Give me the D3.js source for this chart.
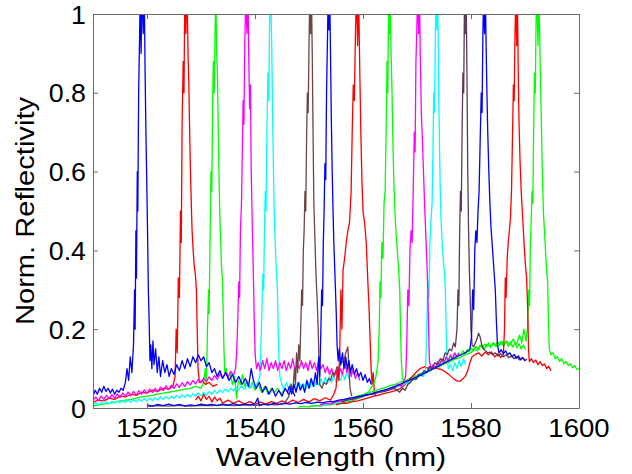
<!DOCTYPE html>
<html>
<head>
<meta charset="utf-8">
<script src="https://cdn.jsdelivr.net/npm/d3@7"></script>
<style>
  body { margin: 0; background: #fff; }
  text { font-family: "Liberation Sans", Arial, sans-serif; fill: #000; }
</style>
</head>
<body>
<script>
"use strict";

// axis ticks
var xTicks = [1520, 1540, 1560, 1580, 1600];
var yTicks = [0, 0.2, 0.4, 0.6, 0.8, 1];
var yTickLabels = ["0", "0.2", "0.4", "0.6", "0.8", "1"];

// spectra [wavelength nm, normalized reflectivity]
var blueA = [[1510,0.03],[1510.4,0.045],[1510.8,0.035],[1511.2,0.05],[1511.6,0.04],[1512,0.055],[1512.4,0.042],[1512.8,0.05],[1513.2,0.038],[1513.6,0.048],[1514,0.035],[1514.4,0.045],[1514.8,0.04],[1515.2,0.05],[1515.6,0.045],[1516,0.065],[1516.3,0.1],[1516.6,0.07],[1516.9,0.13],[1517.2,0.09],[1517.5,0.16],[1517.7,0.3],[1517.8,0.2],[1517.95,0.45],[1518.05,0.33],[1518.2,0.6],[1518.3,0.5],[1518.45,0.8],[1518.6,0.92],[1518.75,1.05],[1518.9,0.9],[1519.1,1.08],[1519.3,0.95],[1519.5,1.05],[1519.65,0.85],[1519.8,0.7],[1519.95,0.58],[1520.1,0.45],[1520.25,0.3],[1520.4,0.22],[1520.55,0.12],[1520.7,0.16],[1520.9,0.1],[1521.1,0.17],[1521.3,0.11],[1521.6,0.15],[1521.9,0.09],[1522.2,0.13],[1522.5,0.08],[1522.9,0.12],[1523.3,0.09],[1523.7,0.11],[1524.1,0.08],[1524.5,0.1],[1525,0.085],[1525.5,0.11],[1526,0.095],[1526.5,0.12],[1527,0.1],[1527.5,0.125],[1528,0.105],[1528.5,0.13],[1529,0.115],[1529.5,0.135],[1530,0.12],[1530.5,0.13],[1531,0.105],[1531.5,0.115],[1532,0.09],[1532.5,0.1],[1533,0.08],[1533.5,0.095],[1534,0.075],[1534.6,0.09],[1535.2,0.07],[1535.8,0.085],[1536.4,0.065],[1537,0.08],[1537.6,0.06],[1538.2,0.075],[1538.8,0.055],[1539.3,0.1],[1539.7,0.07],[1540.2,0.05],[1540.8,0.065],[1541.4,0.04],[1542,0.055],[1542.6,0.035],[1543.2,0.05],[1543.8,0.03],[1544.4,0.045],[1545,0.03],[1545.6,0.05],[1546.2,0.035],[1546.8,0.05],[1547.4,0.03]];

var redB = [[1510,0.015],[1511,0.02],[1512,0.018],[1513,0.025],[1514,0.022],[1515,0.03],[1516,0.028],[1517,0.035],[1518,0.032],[1519,0.04],[1520,0.038],[1521,0.045],[1522,0.042],[1523,0.05],[1524,0.048],[1524.8,0.055],[1525.2,0.08],[1525.4,0.2],[1525.6,0.14],[1525.8,0.33],[1526,0.28],[1526.2,0.5],[1526.35,0.42],[1526.5,0.72],[1526.7,0.88],[1526.85,0.8],[1527,1.05],[1527.2,0.95],[1527.4,1.08],[1527.6,0.9],[1527.75,0.82],[1527.9,0.7],[1528.05,0.6],[1528.2,0.52],[1528.35,0.45],[1528.55,0.4],[1528.75,0.36],[1528.95,0.34],[1529.15,0.3],[1529.3,0.2],[1529.45,0.1],[1529.7,0.065],[1530.2,0.07],[1530.8,0.06],[1531.5,0.065],[1532.2,0.055],[1533,0.06]];

var greenC = [[1510,0.005],[1511,0.008],[1512,0.01],[1513,0.012],[1514,0.015],[1515,0.018],[1516,0.02],[1517,0.022],[1518,0.025],[1519,0.028],[1520,0.03],[1521,0.032],[1522,0.035],[1523,0.038],[1524,0.04],[1525,0.042],[1526,0.045],[1527,0.048],[1528,0.05],[1529,0.055],[1530,0.05],[1530.5,0.065],[1530.8,0.1],[1531,0.06],[1531.2,0.2],[1531.4,0.3],[1531.5,0.24],[1531.7,0.45],[1531.85,0.6],[1532,0.55],[1532.15,0.78],[1532.3,0.88],[1532.45,0.8],[1532.6,0.95],[1532.75,1.05],[1532.9,0.9],[1533.05,0.85],[1533.2,0.7],[1533.35,0.58],[1533.5,0.48],[1533.65,0.42],[1533.8,0.36],[1533.95,0.33],[1534.1,0.25],[1534.25,0.15],[1534.4,0.09],[1534.7,0.1],[1535,0.075],[1535.4,0.09],[1535.8,0.06],[1536.2,0.08],[1536.6,0.025],[1536.9,0.07],[1537.3,0.06],[1537.7,0.085],[1538.1,0.055],[1538.5,0.07],[1539,0.05],[1539.5,0.065],[1540,0.045],[1540.6,0.06],[1541.2,0.04],[1541.8,0.055],[1542.4,0.035],[1543,0.05],[1543.6,0.04],[1544.2,0.05],[1544.8,0.035],[1545.4,0.045]];

var magentaD = [[1510,0.02],[1510.5,0.028],[1511,0.018],[1511.5,0.03],[1512,0.022],[1512.5,0.032],[1513,0.024],[1513.5,0.034],[1514,0.025],[1514.5,0.036],[1515,0.027],[1515.5,0.038],[1516,0.03],[1516.5,0.04],[1517,0.031],[1517.5,0.042],[1518,0.033],[1518.5,0.044],[1519,0.035],[1519.5,0.046],[1520,0.037],[1520.5,0.048],[1521,0.039],[1521.5,0.05],[1522,0.041],[1522.5,0.053],[1523,0.044],[1523.5,0.056],[1524,0.047],[1524.5,0.058],[1525,0.05],[1525.5,0.061],[1526,0.052],[1526.5,0.064],[1527,0.055],[1527.5,0.067],[1528,0.058],[1528.5,0.07],[1529,0.061],[1529.5,0.073],[1530,0.064],[1530.5,0.076],[1531,0.067],[1531.5,0.079],[1532,0.07],[1532.5,0.082],[1533,0.073],[1533.5,0.086],[1534,0.076],[1534.5,0.09],[1535,0.078],[1535.5,0.093],[1536,0.082],[1536.4,0.1],[1536.6,0.14],[1536.8,0.22],[1537,0.32],[1537.15,0.28],[1537.3,0.45],[1537.5,0.52],[1537.65,0.65],[1537.8,0.78],[1537.95,0.72],[1538.1,0.92],[1538.3,1.05],[1538.5,0.95],[1538.7,1.06],[1538.85,0.88],[1539,0.76],[1539.15,0.82],[1539.3,0.6],[1539.45,0.5],[1539.6,0.4],[1539.75,0.3],[1539.9,0.2],[1540.05,0.13],[1540.3,0.1],[1540.6,0.115],[1541,0.095],[1541.4,0.12],[1541.8,0.1],[1542.2,0.125],[1542.6,0.095],[1543,0.115],[1543.4,0.1],[1543.8,0.12],[1544.2,0.095],[1544.6,0.115],[1545,0.1],[1545.4,0.12],[1545.8,0.095],[1546.2,0.115],[1546.6,0.1],[1547,0.125],[1547.4,0.095],[1547.8,0.115],[1548.2,0.1],[1548.6,0.12],[1549,0.1],[1549.4,0.115],[1549.8,0.095],[1550.2,0.12],[1550.6,0.1],[1551,0.115],[1551.4,0.095],[1551.8,0.12],[1552.2,0.1],[1552.6,0.11],[1553,0.09],[1553.4,0.105],[1553.8,0.085],[1554.2,0.1],[1554.6,0.08],[1555,0.095],[1555.4,0.075],[1555.8,0.1],[1556.2,0.085],[1556.6,0.12],[1557,0.09],[1557.4,0.11],[1557.8,0.08],[1558.2,0.1],[1558.6,0.075],[1559,0.09],[1559.4,0.07]];

var cyanE = [[1510,0.008],[1510.5,0.014],[1511,0.008],[1511.5,0.015],[1512,0.01],[1512.5,0.016],[1513,0.011],[1513.5,0.017],[1514,0.012],[1514.5,0.018],[1515,0.013],[1515.5,0.019],[1516,0.014],[1516.5,0.02],[1517,0.015],[1517.5,0.021],[1518,0.016],[1518.5,0.022],[1519,0.017],[1519.5,0.024],[1520,0.018],[1520.5,0.025],[1521,0.019],[1521.5,0.026],[1522,0.02],[1522.5,0.028],[1523,0.022],[1523.5,0.029],[1524,0.023],[1524.5,0.03],[1525,0.024],[1525.5,0.032],[1526,0.025],[1526.5,0.033],[1527,0.027],[1527.5,0.035],[1528,0.028],[1528.5,0.036],[1529,0.03],[1529.5,0.038],[1530,0.031],[1530.5,0.04],[1531,0.033],[1531.5,0.042],[1532,0.035],[1532.5,0.044],[1533,0.037],[1533.5,0.046],[1534,0.039],[1534.5,0.048],[1535,0.041],[1535.5,0.05],[1536,0.043],[1536.5,0.053],[1537,0.046],[1537.5,0.056],[1538,0.048],[1538.5,0.058],[1539,0.05],[1539.5,0.061],[1540,0.053],[1540.5,0.065],[1540.9,0.08],[1541.1,0.16],[1541.3,0.26],[1541.45,0.34],[1541.6,0.3],[1541.75,0.45],[1541.9,0.55],[1542.05,0.5],[1542.2,0.7],[1542.4,0.85],[1542.55,0.78],[1542.7,0.98],[1542.9,1.06],[1543.1,0.92],[1543.25,0.75],[1543.4,0.62],[1543.55,0.5],[1543.7,0.44],[1543.85,0.38],[1544,0.34],[1544.15,0.3],[1544.3,0.2],[1544.45,0.12],[1544.6,0.08],[1545,0.06],[1545.4,0.045],[1545.8,0.065],[1546.2,0.05],[1546.6,0.062],[1547,0.045],[1547.4,0.06],[1547.8,0.048],[1548.2,0.065],[1548.6,0.05],[1549,0.062],[1549.4,0.048],[1549.8,0.066],[1550.2,0.052],[1550.6,0.07],[1551,0.055],[1551.4,0.072],[1551.8,0.058],[1552.2,0.075],[1552.6,0.06],[1553,0.078],[1553.4,0.062],[1553.8,0.08],[1554.2,0.065],[1554.6,0.082],[1555,0.068],[1555.4,0.085],[1555.8,0.07],[1556.2,0.088],[1556.6,0.072],[1557,0.09],[1557.4,0.075]];

var brownF = [[1520,0.004],[1522,0.006],[1524,0.005],[1526,0.007],[1528,0.005],[1530,0.007],[1532,0.006],[1534,0.008],[1536,0.006],[1538,0.008],[1540,0.007],[1542,0.009],[1544,0.008],[1545.5,0.012],[1546.3,0.03],[1546.7,0.06],[1547,0.04],[1547.3,0.1],[1547.5,0.06],[1547.7,0.14],[1547.9,0.09],[1548.1,0.16],[1548.3,0.12],[1548.5,0.22],[1548.65,0.3],[1548.8,0.26],[1548.95,0.4],[1549.1,0.45],[1549.25,0.55],[1549.4,0.5],[1549.55,0.68],[1549.7,0.8],[1549.85,0.75],[1550,0.92],[1550.15,1.05],[1550.3,0.95],[1550.45,1.06],[1550.6,0.9],[1550.75,0.7],[1550.9,0.52],[1551.05,0.45],[1551.2,0.38],[1551.35,0.32],[1551.5,0.28],[1551.7,0.2],[1551.85,0.12],[1552,0.06],[1552.4,0.05],[1552.8,0.065],[1553.2,0.06],[1553.6,0.075],[1554,0.07],[1554.4,0.09],[1554.8,0.085],[1555.2,0.105],[1555.6,0.1],[1556,0.12],[1556.4,0.115],[1556.8,0.14],[1557.2,0.155],[1557.4,0.1],[1557.6,0.05],[1557.9,0.03]];

var blueG = [[1546,0.04],[1546.4,0.055],[1546.8,0.035],[1547.2,0.06],[1547.6,0.04],[1548,0.065],[1548.4,0.045],[1548.8,0.06],[1549.2,0.04],[1549.6,0.07],[1550,0.05],[1550.4,0.075],[1550.8,0.055],[1551.2,0.09],[1551.5,0.06],[1551.8,0.13],[1552,0.08],[1552.2,0.2],[1552.35,0.3],[1552.5,0.26],[1552.65,0.42],[1552.8,0.5],[1552.95,0.62],[1553.1,0.58],[1553.25,0.8],[1553.4,0.92],[1553.55,1.05],[1553.7,0.96],[1553.85,1.04],[1554,0.88],[1554.15,0.72],[1554.3,0.6],[1554.45,0.5],[1554.6,0.42],[1554.75,0.36],[1554.9,0.3],[1555.05,0.24],[1555.2,0.16],[1555.4,0.12],[1555.6,0.15],[1555.9,0.11],[1556.2,0.14],[1556.5,0.1],[1556.8,0.13],[1557.1,0.1],[1557.4,0.12],[1557.7,0.09],[1558,0.11],[1558.4,0.085],[1558.8,0.1],[1559.2,0.08],[1559.6,0.09],[1560,0.07],[1560.4,0.085],[1560.8,0.065],[1561.2,0.075],[1561.5,0.06]];

var redH = [[1529,0.02],[1529.5,0.03],[1530,0.018],[1530.5,0.035],[1531,0.022],[1531.5,0.03],[1532,0.015],[1532.5,0.028],[1533,0.018],[1533.5,0.025],[1534,0.012],[1535,0.02],[1536,0.012],[1537,0.018],[1538,0.01],[1539,0.016],[1540,0.01],[1541,0.015],[1542,0.01],[1543,0.016],[1544,0.012],[1545,0.018],[1546,0.012],[1547,0.02],[1548,0.014],[1549,0.022],[1550,0.015],[1551,0.024],[1552,0.018],[1553,0.026],[1554,0.02],[1554.6,0.035],[1555,0.05],[1555.3,0.1],[1555.5,0.07],[1555.7,0.15],[1555.9,0.3],[1556.1,0.2],[1556.3,0.35],[1556.6,0.38],[1556.9,0.42],[1557.2,0.45],[1557.5,0.47],[1557.8,0.55],[1558,0.7],[1558.2,0.82],[1558.4,0.78],[1558.6,0.95],[1558.8,1.06],[1559,0.92],[1559.2,1.04],[1559.4,0.86],[1559.6,0.7],[1559.8,0.58],[1560,0.5],[1560.3,0.47],[1560.6,0.42],[1560.9,0.32],[1561.1,0.26],[1561.3,0.18],[1561.5,0.1],[1561.7,0.06],[1561.9,0.09],[1562.1,0.04],[1562.4,0.03]];

var greenO = [[1548,0.002],[1549,0.004],[1550,0.003],[1551,0.006],[1552,0.006],[1553,0.01],[1554,0.012],[1555,0.016],[1556,0.018],[1557,0.023],[1558,0.026],[1559,0.031],[1560,0.034],[1561,0.039],[1562,0.042],[1563,0.048],[1564,0.051],[1565,0.057],[1566,0.06],[1567,0.066],[1568,0.07],[1569,0.078],[1570,0.082],[1571,0.089],[1572,0.093],[1573,0.1],[1574,0.104],[1575,0.112],[1576,0.116],[1577,0.124],[1578,0.128],[1579,0.136],[1580,0.14],[1580.6,0.15],[1581.2,0.145],[1581.8,0.158],[1582.4,0.15],[1583,0.162],[1583.6,0.154],[1584.2,0.165],[1584.8,0.156],[1585.4,0.168],[1586,0.158],[1586.6,0.17],[1587.2,0.16],[1587.8,0.175],[1588.4,0.162],[1589,0.185],[1589.4,0.165],[1589.8,0.2],[1590.2,0.17],[1590.5,0.21],[1590.7,0.3],[1590.85,0.26],[1591,0.42],[1591.15,0.48],[1591.3,0.55],[1591.45,0.52],[1591.6,0.7],[1591.75,0.85],[1591.9,0.8],[1592.05,0.98],[1592.2,1.05],[1592.4,0.92],[1592.6,1.04],[1592.8,0.88],[1593,0.75],[1593.2,0.6],[1593.4,0.5],[1593.6,0.45],[1593.8,0.4],[1594,0.35],[1594.2,0.32],[1594.35,0.22],[1594.5,0.15],[1594.8,0.135],[1595.2,0.14],[1595.6,0.125],[1596,0.13],[1596.4,0.118],[1596.8,0.125],[1597.2,0.112],[1597.6,0.118],[1598,0.108],[1598.4,0.112],[1598.8,0.102],[1599.2,0.108],[1599.6,0.098],[1600,0.1]];

var greenI = [[1550,0.004],[1551,0.006],[1552,0.005],[1553,0.008],[1554,0.008],[1555,0.011],[1556,0.012],[1557,0.016],[1558,0.018],[1559,0.024],[1560,0.028],[1560.5,0.036],[1561,0.04],[1561.5,0.052],[1562,0.06],[1562.4,0.08],[1562.8,0.12],[1563,0.2],[1563.15,0.32],[1563.3,0.28],[1563.5,0.42],[1563.7,0.38],[1563.9,0.52],[1564.1,0.55],[1564.3,0.72],[1564.45,0.88],[1564.6,0.8],[1564.75,1.05],[1564.9,0.95],[1565.05,1.04],[1565.2,0.9],[1565.35,0.82],[1565.5,0.7],[1565.7,0.58],[1565.9,0.5],[1566.1,0.45],[1566.35,0.4],[1566.6,0.35],[1566.8,0.3],[1566.95,0.2],[1567.1,0.12],[1567.3,0.075],[1567.7,0.065],[1568.1,0.07],[1568.5,0.062],[1568.9,0.075],[1569.3,0.07],[1569.7,0.082],[1570.1,0.076],[1570.5,0.088],[1570.9,0.082],[1571.3,0.094],[1571.7,0.088],[1572.1,0.1],[1572.5,0.094],[1572.9,0.106],[1573.3,0.1],[1573.7,0.112],[1574.1,0.106],[1574.5,0.118],[1574.9,0.112],[1575.3,0.124],[1575.7,0.118],[1576.1,0.13],[1576.5,0.124],[1576.9,0.135],[1577.3,0.13],[1577.7,0.14],[1578.1,0.134],[1578.5,0.145],[1578.9,0.138],[1579.3,0.148],[1579.7,0.142],[1580.1,0.152],[1580.5,0.146],[1580.9,0.156],[1581.3,0.15],[1581.7,0.16],[1582.1,0.152],[1582.5,0.162],[1582.9,0.155],[1583.3,0.165],[1583.7,0.156],[1584.1,0.166],[1584.5,0.157],[1584.9,0.168],[1585.3,0.158],[1585.7,0.17],[1586.1,0.158],[1586.5,0.17],[1586.9,0.156],[1587.3,0.168],[1587.7,0.155],[1588.1,0.165],[1588.5,0.153],[1588.9,0.163],[1589.3,0.15],[1589.7,0.16],[1590.1,0.148]];

var redN = [[1555,0.008],[1556,0.012],[1557,0.012],[1558,0.016],[1559,0.018],[1560,0.022],[1561,0.026],[1562,0.03],[1563,0.033],[1564,0.037],[1565,0.04],[1566,0.044],[1567,0.05],[1568,0.062],[1569,0.078],[1569.8,0.09],[1570.6,0.1],[1571.4,0.105],[1572.2,0.1],[1573,0.106],[1573.8,0.1],[1574.5,0.098],[1575.2,0.092],[1575.8,0.086],[1576.4,0.079],[1577,0.072],[1577.5,0.068],[1578,0.068],[1578.5,0.074],[1579,0.082],[1579.4,0.095],[1579.8,0.115],[1580.2,0.13],[1580.8,0.136],[1581.4,0.14],[1582,0.132],[1582.6,0.142],[1583.2,0.135],[1583.8,0.142],[1584.4,0.13],[1585,0.138],[1585.5,0.128],[1586,0.135],[1586.2,0.2],[1586.35,0.33],[1586.5,0.28],[1586.7,0.38],[1586.9,0.42],[1587.1,0.45],[1587.3,0.48],[1587.5,0.55],[1587.7,0.7],[1587.85,0.82],[1588,0.78],[1588.15,0.95],[1588.3,1.05],[1588.45,0.92],[1588.6,1.04],[1588.75,0.85],[1588.9,0.72],[1589.1,0.62],[1589.3,0.55],[1589.5,0.5],[1589.7,0.45],[1589.9,0.4],[1590.1,0.36],[1590.3,0.33],[1590.5,0.25],[1590.65,0.15],[1590.8,0.118],[1591.2,0.125],[1591.6,0.115],[1592,0.122],[1592.4,0.11],[1592.8,0.118],[1593.2,0.108],[1593.6,0.112],[1594,0.1],[1594.4,0.106],[1594.8,0.094]];

var cyanK = [[1552,0.006],[1553,0.01],[1554,0.009],[1555,0.014],[1556,0.015],[1557,0.02],[1558,0.021],[1559,0.026],[1560,0.028],[1561,0.033],[1562,0.035],[1563,0.04],[1564,0.042],[1565,0.048],[1566,0.05],[1567,0.058],[1568,0.062],[1569,0.07],[1570,0.075],[1570.6,0.085],[1571.2,0.08],[1571.6,0.1],[1571.8,0.2],[1572,0.32],[1572.2,0.28],[1572.4,0.42],[1572.6,0.48],[1572.8,0.52],[1572.95,0.65],[1573.1,0.8],[1573.25,0.75],[1573.4,0.95],[1573.55,1.05],[1573.7,0.96],[1573.85,1.04],[1574,0.82],[1574.15,0.68],[1574.3,0.56],[1574.45,0.48],[1574.65,0.42],[1574.85,0.38],[1575.05,0.35],[1575.25,0.3],[1575.4,0.2],[1575.55,0.13],[1575.8,0.1],[1576.2,0.11],[1576.6,0.095],[1577,0.115],[1577.4,0.1],[1577.8,0.12],[1578.2,0.105],[1578.6,0.125],[1579,0.11]];

var magentaJ = [[1552,0.008],[1553,0.012],[1554,0.01],[1555,0.016],[1556,0.018],[1557,0.022],[1558,0.024],[1559,0.028],[1560,0.03],[1561,0.034],[1562,0.036],[1563,0.042],[1564,0.044],[1565,0.05],[1566,0.052],[1566.5,0.06],[1567,0.055],[1567.5,0.065],[1567.9,0.08],[1568.1,0.16],[1568.3,0.3],[1568.5,0.26],[1568.7,0.4],[1568.9,0.45],[1569.1,0.42],[1569.3,0.55],[1569.5,0.7],[1569.65,0.65],[1569.8,0.88],[1569.95,0.95],[1570.1,1.05],[1570.3,0.95],[1570.45,1.05],[1570.6,0.9],[1570.8,0.75],[1571,0.68],[1571.2,0.6],[1571.4,0.52],[1571.6,0.45],[1571.8,0.38],[1572,0.3],[1572.15,0.2],[1572.3,0.12],[1572.6,0.1],[1573,0.11],[1573.4,0.1],[1573.8,0.118],[1574.2,0.11],[1574.6,0.125],[1575,0.115],[1575.4,0.13],[1575.8,0.12],[1576.2,0.135],[1576.6,0.125],[1577,0.14],[1577.4,0.13],[1577.8,0.138]];

var brownL = [[1556,0.015],[1557,0.02],[1558,0.022],[1559,0.026],[1560,0.03],[1561,0.034],[1562,0.036],[1563,0.04],[1564,0.042],[1565,0.046],[1565.7,0.05],[1566.3,0.045],[1566.8,0.04],[1567.3,0.05],[1567.8,0.045],[1568.3,0.06],[1568.8,0.065],[1569.3,0.075],[1569.8,0.072],[1570.3,0.085],[1570.8,0.082],[1571.3,0.095],[1571.8,0.09],[1572.3,0.105],[1572.8,0.1],[1573.3,0.115],[1573.8,0.11],[1574.3,0.125],[1574.8,0.12],[1575.2,0.14],[1575.6,0.135],[1576,0.15],[1576.4,0.145],[1576.8,0.165],[1577.1,0.155],[1577.4,0.2],[1577.6,0.3],[1577.75,0.26],[1577.9,0.45],[1578.05,0.55],[1578.2,0.5],[1578.35,0.7],[1578.5,0.85],[1578.65,0.8],[1578.8,1.05],[1578.95,0.95],[1579.1,1.05],[1579.25,0.85],[1579.4,0.6],[1579.55,0.45],[1579.7,0.35],[1579.85,0.28],[1580,0.2],[1580.2,0.16],[1580.5,0.155],[1580.8,0.165],[1581.1,0.175],[1581.4,0.19],[1581.7,0.18],[1582,0.16],[1582.3,0.15],[1582.7,0.145],[1583.1,0.14],[1583.5,0.142],[1584,0.135],[1584.5,0.14],[1585,0.132],[1585.5,0.138],[1586,0.13],[1586.5,0.135],[1587,0.128],[1587.5,0.132],[1588,0.125],[1588.5,0.13],[1589,0.122],[1589.5,0.128],[1590,0.12],[1590.4,0.125]];

var blueM = [[1520,0.008],[1521,0.005],[1522,0.009],[1523,0.006],[1524,0.01],[1525,0.006],[1526,0.009],[1527,0.005],[1528,0.008],[1529,0.006],[1530,0.01],[1531,0.007],[1532,0.009],[1533,0.006],[1534,0.01],[1535,0.007],[1536,0.011],[1537,0.007],[1538,0.01],[1539,0.008],[1540,0.011],[1540.5,0.025],[1540.8,0.006],[1541.5,0.01],[1542.5,0.008],[1543.5,0.012],[1544.5,0.009],[1545.5,0.012],[1546.5,0.01],[1547.5,0.013],[1548.5,0.011],[1549.5,0.014],[1550.5,0.012],[1551.5,0.015],[1552.5,0.013],[1553.5,0.016],[1554.5,0.016],[1555.5,0.02],[1556.5,0.022],[1557.5,0.025],[1558.5,0.027],[1559.5,0.03],[1560.5,0.033],[1561.5,0.036],[1562.5,0.04],[1563.5,0.044],[1564.5,0.048],[1565.5,0.053],[1566.5,0.058],[1567.5,0.064],[1568.5,0.07],[1569.5,0.076],[1570.5,0.082],[1571.5,0.089],[1572.5,0.096],[1573.5,0.103],[1574.5,0.11],[1575.5,0.117],[1576.5,0.124],[1577.5,0.131],[1578.5,0.137],[1579.3,0.143],[1579.8,0.15],[1580.1,0.18],[1580.3,0.3],[1580.5,0.25],[1580.7,0.4],[1580.9,0.45],[1581.1,0.42],[1581.3,0.5],[1581.5,0.55],[1581.7,0.68],[1581.9,0.8],[1582.05,0.75],[1582.2,0.95],[1582.35,1.05],[1582.5,0.95],[1582.65,1.06],[1582.8,0.92],[1582.95,0.8],[1583.1,0.7],[1583.3,0.6],[1583.5,0.52],[1583.7,0.46],[1583.9,0.42],[1584.1,0.38],[1584.3,0.34],[1584.5,0.3],[1584.7,0.22],[1584.9,0.16],[1585.2,0.14],[1585.6,0.148],[1586,0.138],[1586.4,0.145],[1586.8,0.135],[1587.2,0.14],[1587.6,0.13],[1588,0.136],[1588.4,0.126],[1588.8,0.132],[1589.2,0.122],[1589.6,0.128],[1590,0.12]];

// drawing order (later on top) and colours
var series = [
    { "data": greenC,   "color": "#00ff00" },
    { "data": redB,     "color": "#ff0000" },
    { "data": cyanE,    "color": "#00ffff" },
    { "data": magentaD, "color": "#ff00ff" },
    { "data": blueA,    "color": "#0000ff" },
    { "data": brownF,   "color": "#6e4545" },
    { "data": redH,     "color": "#ff0000" },
    { "data": blueG,    "color": "#0000ff" },
    { "data": greenO,   "color": "#00ff00" },
    { "data": greenI,   "color": "#00ff00" },
    { "data": redN,     "color": "#ff0000" },
    { "data": cyanK,    "color": "#00ffff" },
    { "data": magentaJ, "color": "#ff00ff" },
    { "data": brownL,   "color": "#5b3b55" },
    { "data": blueM,    "color": "#0000ff" }
];

function draw_chart() {
    var width = 632;
    var height = 474;
    var left = 93, right = 579, top = 14, bottom = 408;

    var svg = d3.select("body")
        .append("svg")
        .attr("width", width)
        .attr("height", height);

    var x = d3.scaleLinear().domain([1510, 1600]).range([left, right]);
    var y = d3.scaleLinear().domain([0, 1]).range([bottom, top]);

    svg.append("defs").append("clipPath")
        .attr("id", "plotclip")
        .append("rect")
        .attr("x", left).attr("y", top)
        .attr("width", right - left).attr("height", bottom - top);

    var line = d3.line()
        .x(function(d) { return x(d[0]); })
        .y(function(d) { return y(d[1]); });

    svg.append("g")
        .attr("clip-path", "url(#plotclip)")
        .selectAll("path")
        .data(series)
        .enter()
        .append("path")
        .attr("d", function(d) { return line(d.data); })
        .attr("fill", "none")
        .attr("stroke", function(d) { return d.color; })
        .attr("stroke-width", 1.3)
        .attr("stroke-linejoin", "round");

    // axes box, inward ticks on all four sides (matlab style)
    var axisColor = "#6a6a6a";
    var tickLen = 5;
    var axes = svg.append("g");

    axes.append("g")
        .attr("transform", "translate(0," + bottom + ")")
        .call(d3.axisBottom(x).tickValues(xTicks).tickSizeInner(-tickLen).tickSizeOuter(0).tickFormat(""));
    axes.append("g")
        .attr("transform", "translate(0," + top + ")")
        .call(d3.axisTop(x).tickValues(xTicks).tickSizeInner(-tickLen).tickSizeOuter(0).tickFormat(""));
    axes.append("g")
        .attr("transform", "translate(" + left + ",0)")
        .call(d3.axisLeft(y).tickValues(yTicks).tickSizeInner(-tickLen).tickSizeOuter(0).tickFormat(""));
    axes.append("g")
        .attr("transform", "translate(" + right + ",0)")
        .call(d3.axisRight(y).tickValues(yTicks).tickSizeInner(-tickLen).tickSizeOuter(0).tickFormat(""));
    axes.selectAll("path.domain").attr("stroke", axisColor);
    axes.selectAll(".tick line").attr("stroke", axisColor);

    // tick labels
    svg.selectAll("text.xlab")
        .data(xTicks)
        .enter()
        .append("text")
        .attr("class", "xlab")
        .attr("text-anchor", "middle")
        .attr("font-size", 26)
        .attr("transform", function(d) { return "translate(" + x(d) + "," + (bottom + 29) + ")scale(1.06,1)"; })
        .text(function(d) { return d; });

    svg.selectAll("text.ylab")
        .data(yTicks)
        .enter()
        .append("text")
        .attr("class", "ylab")
        .attr("text-anchor", "end")
        .attr("font-size", 26)
        .attr("transform", function(d) { return "translate(" + (left - 7) + "," + (y(d) + 9.5) + ")scale(1.03,1)"; })
        .text(function(d, i) { return yTickLabels[i]; });

    // axis titles
    svg.append("text")
        .attr("text-anchor", "middle")
        .attr("font-size", 26)
        .attr("transform", "translate(" + ((left + right) / 2 - 5) + ",466)scale(1.17,1)")
        .text("Wavelength (nm)");

    svg.append("text")
        .attr("text-anchor", "middle")
        .attr("font-size", 26)
        .attr("transform", "translate(34," + ((top + bottom) / 2) + ")rotate(-90)scale(1.12,1)")
        .text("Norm. Reflectivity");
}

draw_chart();
</script>
</body>
</html>
